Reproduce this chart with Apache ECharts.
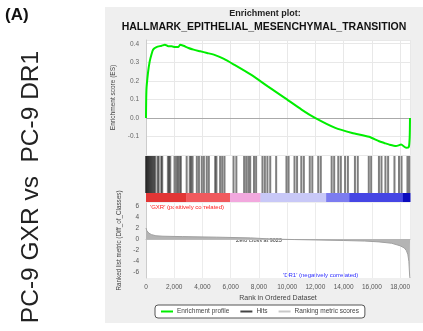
<!DOCTYPE html>
<html>
<head>
<meta charset="utf-8">
<script src="https://cdn.jsdelivr.net/npm/echarts@6/dist/echarts.min.js"></script>
<style>
  html, body { margin: 0; padding: 0; background: #fff; }
  #chart { width: 423px; height: 331px; }
</style>
</head>
<body>
<div id="chart"></div>
<script>
// ---- data ----
const rankMax = 18700;
const zeroCross = 9023;
const rankTicks = [0, 2000, 4000, 6000, 8000, 10000, 12000, 14000, 16000, 18000];
const esTicks = [-0.1, 0, 0.1, 0.2, 0.3, 0.4];
const metricTicks = [-6, -4, -2, 0, 2, 4, 6];

const esRank = [0, 30, 143, 263, 382, 502, 741, 1099, 1338, 1577, 1816, 2055, 2294, 2414, 2653,
  3011, 3370, 3848, 4326, 4804, 5521, 6238, 7433, 8628, 9823, 11018, 11974, 13408, 14603,
  15798, 16515, 16873, 17232, 17710, 18068, 18427, 18618, 18680, 18700];
const esScore = [0, 0.15, 0.244, 0.305, 0.341, 0.368, 0.382, 0.389, 0.395, 0.386, 0.386, 0.382, 0.382, 0.395, 0.389,
  0.377, 0.368, 0.359, 0.35, 0.341, 0.318, 0.287, 0.233, 0.17, 0.108, 0.045, 0.0, -0.054, -0.081,
  -0.102, -0.126, -0.135, -0.144, -0.152, -0.144, -0.161, -0.156, -0.099, 0];

const hitRanks = [0, 40, 90, 150, 210, 280, 350, 420, 500, 580, 650, 820, 900, 1080, 1150,
  1550, 1640, 1720, 2020, 2150, 2260, 2380, 2470, 2880, 3100, 3200, 3300, 3600, 3750,
  3950, 4100, 4300, 4450, 4900, 4990, 5250, 5400, 5560, 6200, 6400, 6950, 7100, 7250, 7380,
  7650, 7800, 8250, 8420, 8600, 8800, 9220, 9950, 10100, 10520, 10700, 11000, 11180,
  11600, 11780, 12200, 12380, 13150, 13330, 13620, 13800, 14100, 14300, 14800, 15000,
  15780, 15950, 16500, 16680, 16960, 17150, 17600, 17920, 18100, 18520, 18650];

const metricRank = [0, 20, 60, 120, 215, 400, 700, 1200, 2600, 5000, 7400, 9023, 10500, 12000,
  14000, 15500, 16500, 17400, 18000, 18300, 18450, 18550, 18620, 18680, 18700];
const metricValue = [2.0, 1.8, 1.5, 1.2, 1.05, 0.8, 0.6, 0.52, 0.45, 0.35, 0.22, 0, -0.08, -0.15,
  -0.25, -0.35, -0.5, -0.75, -1.2, -1.6, -2.1, -2.8, -4.0, -6.8, -7];

// colour band under the hits: band edges (rank) and colour level per band
const bandEdges = [0, 2840, 5950, 8100, 12760, 14400, 18200, 18700];
const bandLevels = [0, 1, 2, 3, 4, 5, 6];

// ---- styling ----
const FONT = "'Liberation Sans', Arial, sans-serif";
const RAMP = ['#e23636', '#f05a5e', '#f2a8de', '#c8c8f7', '#7c7cf0', '#4646e4', '#0c0cbe'];
const fmtComma = v => String(v).replace(/\B(?=(\d{3})+(?!\d))/g, ',');

const chart = echarts.init(document.getElementById('chart'));

const L = 146, R = 13;
const grids = [
  { left: L, right: R, top: 40, height: 115 },
  { left: L, right: R, top: 156, height: 37 },
  { left: L, right: R, top: 193, height: 9 },
  { left: L, right: R, top: 203, height: 75 }
].map(g => Object.assign(g, { show: true, backgroundColor: '#fff', borderWidth: 0 }));

const hiddenX = i => ({
  type: 'value', gridIndex: i, min: 0, max: rankMax, interval: 2000,
  axisLabel: { show: false }, axisTick: { show: false }, axisLine: { show: false },
  splitLine: { show: false }
});

const option = {
  animation: false,
  textStyle: { fontFamily: FONT },
  grid: grids,
  graphic: [
    { type: 'rect', z: -10, shape: { x: 105, y: 7, width: 318, height: 316 }, style: { fill: '#efefef' } },
    { type: 'text', x: 5, y: 7, style: { text: '(A)', font: "bold 17px " + FONT, fill: '#111' } },
    { type: 'text', x: 265, y: 14, style: { text: 'Enrichment plot:', font: "bold 9px " + FONT, fill: '#222', textAlign: 'center', textVerticalAlign: 'middle' } },
    { type: 'text', x: 264, y: 27, style: { text: 'HALLMARK_EPITHELIAL_MESENCHYMAL_TRANSITION', font: "bold 10.5px " + FONT, fill: '#111', textAlign: 'center', textVerticalAlign: 'middle' } },
    { type: 'text', x: 31, y: 187, rotation: Math.PI / 2, style: { text: 'PC-9 GXR vs  PC-9 DR1', font: "24.5px " + FONT, fill: '#222', textAlign: 'center', textVerticalAlign: 'middle' } },
    { type: 'text', x: 150, y: 207, style: { text: "'GXR' (positively correlated)", font: "6px " + FONT, fill: '#ff2020', textVerticalAlign: 'middle' } },
    { type: 'text', x: 283, y: 275, style: { text: "'DR1' (negatively correlated)", font: "6px " + FONT, fill: '#3030ff', textVerticalAlign: 'middle' } },
    { type: 'text', x: 259, y: 240, style: { text: 'Zero cross at ' + zeroCross, font: "5.5px " + FONT, fill: '#333', textAlign: 'center', textVerticalAlign: 'middle' } }
  ],
  legend: {
    left: 155, top: 305,
    itemWidth: 12, itemHeight: 2, itemGap: 11,
    padding: [3, 6],
    borderColor: '#555', borderWidth: 1, borderRadius: 3, backgroundColor: '#fff',
    textStyle: { fontSize: 6.5, color: '#444', padding: [0, 0, 0, -1] },
    selectedMode: false,
    data: [
      { name: 'Enrichment profile', icon: 'rect', itemStyle: { color: '#00ee00' } },
      { name: 'Hits', icon: 'rect', itemStyle: { color: '#444' } },
      { name: 'Ranking metric scores', icon: 'rect', itemStyle: { color: '#c8c8c8' } }
    ]
  },
  xAxis: [
    Object.assign(hiddenX(0), { splitLine: { show: true, lineStyle: { color: '#e8e8e8' } } }),
    hiddenX(1),
    hiddenX(2),
    {
      type: 'value', gridIndex: 3, min: 0, max: rankMax, interval: 2000,
      axisLine: { show: true, lineStyle: { color: '#bbb' } },
      axisTick: { show: false },
      axisLabel: { fontSize: 6.5, color: '#555', margin: 6, customValues: rankTicks, formatter: fmtComma },
      splitLine: { show: true, lineStyle: { color: '#ececec' } },
      name: 'Rank in Ordered Dataset', nameLocation: 'middle', nameGap: 17,
      nameTextStyle: { fontSize: 7, color: '#444' }
    }
  ],
  yAxis: [
    {
      type: 'value', gridIndex: 0, min: -0.2, max: 0.42, interval: 0.1,
      axisLine: { show: true, lineStyle: { color: '#ccc' } },
      axisTick: { show: false },
      axisLabel: { fontSize: 6.5, color: '#666', margin: 7, customValues: esTicks, formatter: v => v.toFixed(1) },
      splitLine: { show: true, lineStyle: { color: '#e8e8e8' } },
      name: 'Enrichment score (ES)', nameLocation: 'middle', nameGap: 24,
      nameTextStyle: { fontSize: 6.5, color: '#444' }
    },
    { type: 'value', gridIndex: 1, min: 0, max: 1, show: false },
    { type: 'value', gridIndex: 2, min: 0, max: 1, show: false },
    {
      type: 'value', gridIndex: 3, min: -7, max: 6.5,
      axisLine: { show: true, lineStyle: { color: '#ccc' } },
      axisTick: { show: false },
      axisLabel: { fontSize: 6.5, color: '#555', margin: 7, customValues: metricTicks },
      splitLine: { show: false },
      name: 'Ranked list metric (Diff_of_Classes)', nameLocation: 'middle', nameGap: 15,
      nameTextStyle: { fontSize: 6.3, color: '#444' }
    }
  ],
  series: [
    {
      name: 'Enrichment profile', type: 'line', xAxisIndex: 0, yAxisIndex: 0,
      data: esRank.map((r, i) => [r, esScore[i]]),
      showSymbol: false, smooth: 0.2,
      lineStyle: { color: '#00ee00', width: 2 },
      itemStyle: { color: '#00ee00' },
      markLine: {
        silent: true, symbol: 'none', label: { show: false },
        lineStyle: { color: '#aaa', type: 'solid', width: 1 },
        data: [{ yAxis: 0 }]
      },
      z: 5
    },
    {
      name: 'Hits', type: 'custom', xAxisIndex: 1, yAxisIndex: 1,
      data: hitRanks.map(r => [r, 0]),
      encode: { x: 0, y: 1 },
      itemStyle: { color: '#444' },
      renderItem: (params, api) => {
        const top = api.coord([api.value(0), 1]);
        const bot = api.coord([api.value(0), 0]);
        return {
          type: 'line',
          shape: { x1: top[0], y1: top[1], x2: bot[0], y2: bot[1] },
          style: { stroke: '#000', lineWidth: 2, opacity: 0.5 }
        };
      }
    },
    {
      type: 'custom', xAxisIndex: 2, yAxisIndex: 2,
      data: bandLevels.map((lv, i) => [bandEdges[i], bandEdges[i + 1], lv]),
      encode: { x: [0, 1], y: 2 },
      renderItem: (params, api) => {
        const a = api.coord([api.value(0), 1]);
        const b = api.coord([api.value(1), 0]);
        return {
          type: 'rect',
          shape: { x: a[0], y: a[1], width: b[0] - a[0] + 0.5, height: b[1] - a[1] },
          style: { fill: RAMP[api.value(2)] }
        };
      }
    },
    {
      name: 'Ranking metric scores', type: 'line', xAxisIndex: 3, yAxisIndex: 3,
      data: metricRank.map((r, i) => [r, metricValue[i]]),
      showSymbol: false,
      lineStyle: { color: '#a0a0a0', width: 1 },
      itemStyle: { color: '#c8c8c8' },
      areaStyle: { color: '#b4b4b4', opacity: 1 }
    }
  ]
};

chart.setOption(option);
</script>
</body>
</html>
